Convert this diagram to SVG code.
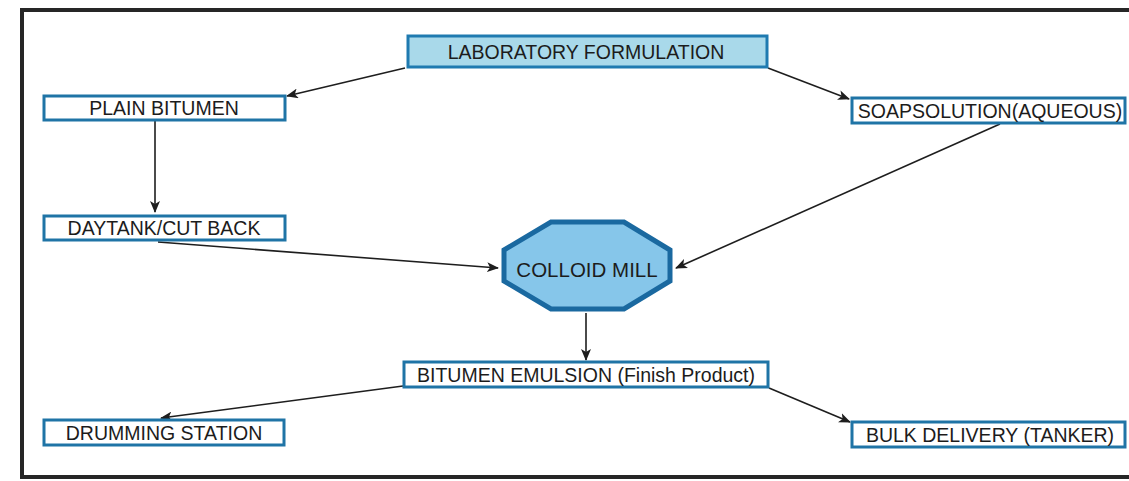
<svg xmlns="http://www.w3.org/2000/svg" width="1129" height="481" viewBox="0 0 1129 481">
<style>
.box{fill:#ffffff;stroke:#1f74a6;stroke-width:3}
.lab{fill:#a9d9ea;stroke:#1f7ab0;stroke-width:3}
.oct{fill:#86c6ea;stroke:#1a69a0;stroke-width:5}
.t{font-family:"Liberation Sans",Arial,sans-serif;font-size:19.5px;fill:#1c1c1c;text-anchor:middle;dominant-baseline:central}
.big{font-size:20.5px}
.c{stroke:#1e1e1e;stroke-width:1.6;fill:none;marker-end:url(#ah)}
</style>
<defs>
<marker id="ah" markerWidth="12" markerHeight="10" refX="11" refY="5" orient="auto" markerUnits="userSpaceOnUse">
<path d="M0,0 L12,5 L0,10 L3,5 Z" fill="#1e1e1e"/>
</marker>
</defs>
<rect x="0" y="0" width="1129" height="481" fill="#ffffff"/>
<rect id="frame" x="22" y="10" width="1120" height="467" fill="none" stroke="#262626" stroke-width="4"/>
<g id="connectors">
<line class="c" x1="405" y1="68" x2="287" y2="96"/>
<line class="c" x1="768" y1="68" x2="849" y2="99"/>
<line class="c" x1="155" y1="121" x2="155" y2="212"/>
<line class="c" x1="158" y1="242" x2="498" y2="268"/>
<line class="c" x1="1000" y1="124" x2="676" y2="268"/>
<line class="c" x1="586" y1="313" x2="586" y2="360"/>
<line class="c" x1="403" y1="386" x2="161" y2="418"/>
<line class="c" x1="769" y1="388" x2="850" y2="422"/>
</g>
<g id="lab-formulation">
<rect class="lab" x="408" y="36" width="359" height="31"/>
<text class="t" x="586" y="52">LABORATORY FORMULATION</text>
</g>
<g id="plain-bitumen">
<rect class="box" x="44" y="96" width="241" height="24"/>
<text class="t" x="164" y="108">PLAIN BITUMEN</text>
</g>
<g id="soap-solution">
<rect class="box" x="852" y="98" width="273" height="25"/>
<text class="t" x="990" y="110.5">SOAPSOLUTION(AQUEOUS)</text>
</g>
<g id="daytank">
<rect class="box" x="44" y="216" width="241" height="24"/>
<text class="t" x="164" y="228">DAYTANK/CUT BACK</text>
</g>
<g id="colloid-mill">
<polygon class="oct" points="551,222 624,222 670,250 670,281 624,309 551,309 504,281 504,250"/>
<text class="t big" x="587" y="269">COLLOID MILL</text>
</g>
<g id="bitumen-emulsion">
<rect class="box" x="404" y="362" width="364" height="25"/>
<text class="t" x="586" y="375">BITUMEN EMULSION (Finish Product)</text>
</g>
<g id="drumming-station">
<rect class="box" x="44" y="420" width="240" height="25"/>
<text class="t" x="164" y="432.5">DRUMMING STATION</text>
</g>
<g id="bulk-delivery">
<rect class="box" x="852" y="422" width="273" height="25"/>
<text class="t" x="990" y="434.5">BULK DELIVERY (TANKER)</text>
</g>
</svg>
